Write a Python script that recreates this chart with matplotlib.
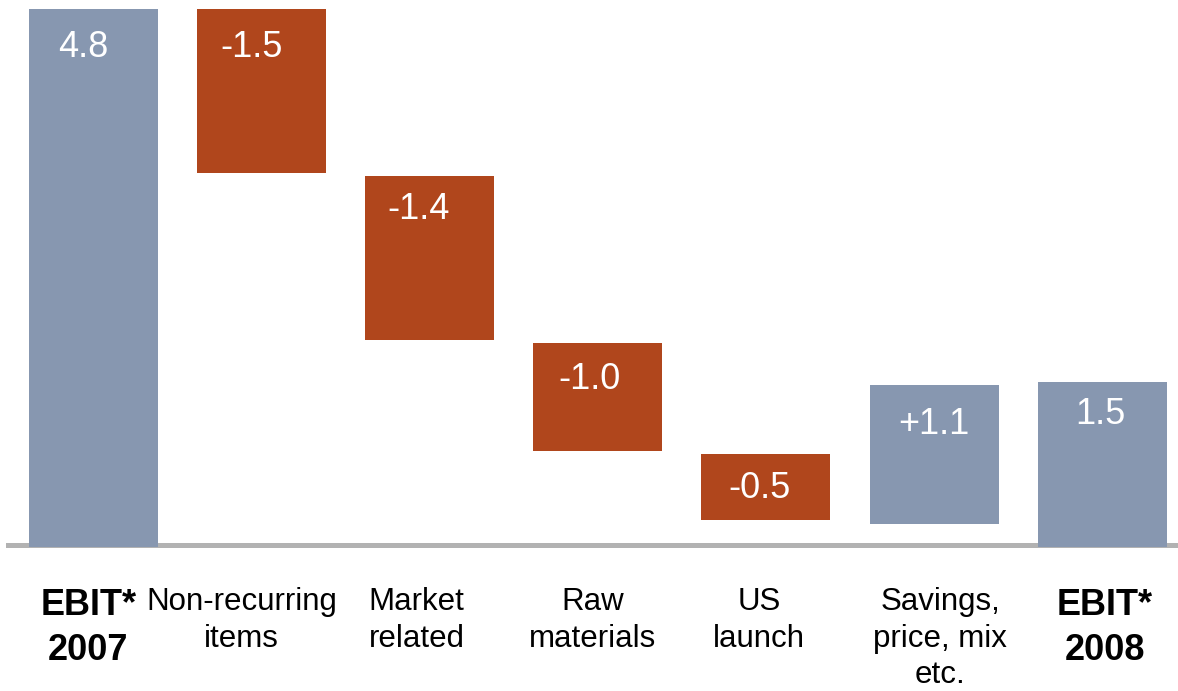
import matplotlib
matplotlib.use("Agg")
import matplotlib.pyplot as plt
from matplotlib.transforms import ScaledTranslation

# ---------------- data ----------------
categories = ["EBIT*\n2007", "Non-recurring\nitems", "Market\nrelated",
              "Raw\nmaterials", "US\nlaunch", "Savings,\nprice, mix\netc.",
              "EBIT*\n2008"]
values = [4.8, -1.46, -1.46, -0.96, -0.59, 1.24, 1.47]
kinds = ["total", "delta", "delta", "delta", "delta", "delta", "total"]
value_labels = ["4.8", "-1.5", "-1.4", "-1.0", "-0.5", "+1.1", "1.5"]

# ---------------- style ----------------
BLUE = "#8797B0"
RUST = "#B0461C"
LINE = "#B2B2B2"
GAP = 0.03
BAR_W = 0.767
FONT = "Liberation Sans"
value_dx = [-10, -10, -11, -8, -6, 0, -2]       # px
value_dy = [48, 48, 43, 46, 44, 49, 42]         # px below bar top (baseline)
cat_dx = [-5, -20, -13, -5, -7, 6, 3]           # px

fig = plt.figure(figsize=(11.78, 6.91), dpi=100)
ax = fig.add_axes([0, 0, 1, 1])
ax.set_xlim(-0.556, 6.451)
ax.set_ylim(-1.282, 4.882)
ax.axis("off")

x = list(range(len(values)))
bottoms, heights, colors = [], [], []
level = 0.0
prev_kind = None
for v, k in zip(values, kinds):
    if k == "total":
        start = 0.0
        end = v
    else:
        start = level if prev_kind == "total" else level - GAP
        end = start + v
    bottoms.append(min(start, end))
    heights.append(abs(end - start))
    colors.append(RUST if v < 0 else BLUE)
    level = end
    prev_kind = k

ax.bar(x, heights, bottom=bottoms, width=BAR_W, color=colors, zorder=2,
       linewidth=0)

base = ax.axhline(0, xmin=8 / 1178, xmax=1, color=LINE, lw=3.6, zorder=1)
base.set_transform(base.get_transform() +
                   ScaledTranslation(0, 0.025, fig.dpi_scale_trans))

for i, lab in enumerate(value_labels):
    top = bottoms[i] + heights[i]
    ax.annotate(lab, (x[i], top), xytext=(value_dx[i], -value_dy[i]),
                textcoords="offset pixels", ha="center", va="baseline",
                color="white", fontsize=26, family=FONT, zorder=3)

for i, cat in enumerate(categories):
    bold = kinds[i] == "total"
    size = 26 if bold else 22.5
    first = 68 if bold else 63
    step = 45 if bold else 36.5
    for j, line in enumerate(cat.split("\n")):
        ax.annotate(line, (x[i], 0), xytext=(cat_dx[i], -(first + j * step)),
                    textcoords="offset pixels", ha="center", va="baseline",
                    color="black", fontsize=size, family=FONT,
                    fontweight="bold" if bold else "normal")

fig.savefig("out.png", dpi=100)
